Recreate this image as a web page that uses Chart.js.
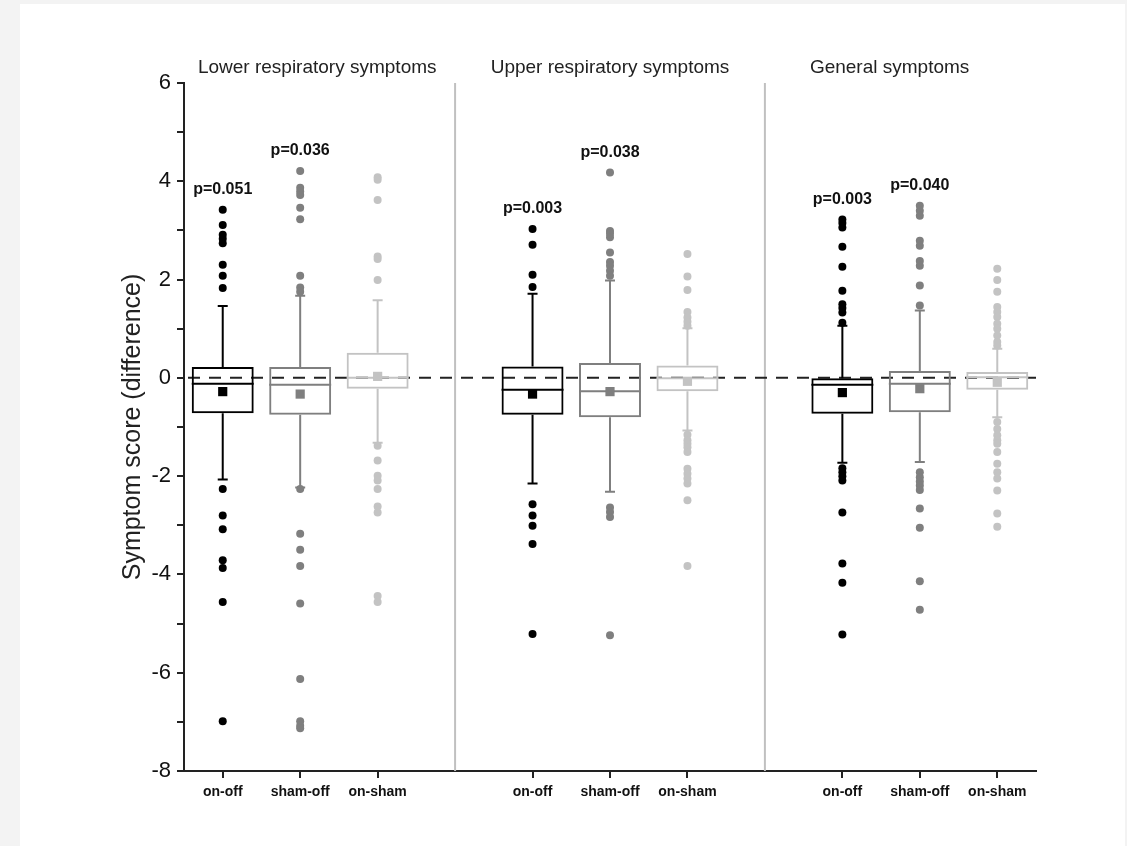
<!DOCTYPE html>
<html>
<head>
<meta charset="utf-8">
<script src="https://cdn.jsdelivr.net/npm/chart.js@4.4.1/dist/chart.umd.min.js"></script>
<style>
  html, body { margin: 0; padding: 0; background: #f3f3f3; }
  #panel { position: absolute; left: 20px; top: 4px; width: 1105px; height: 842px; background: #fff; }
  #wrap { position: absolute; left: 0; top: 0; width: 1127px; height: 846px; }
</style>
</head>
<body>
<div id="panel"></div>
<div id="wrap"><canvas id="box-chart" width="1127" height="846"></canvas></div>
<script>
// categorias e grupos
const groupTitles = ["Lower respiratory symptoms", "Upper respiratory symptoms", "General symptoms"];
const comparisons = ["on-off", "sham-off", "on-sham"];
const xPositions = [1, 2, 3, 5, 6, 7, 9, 10, 11];
const separators = [4, 8];
const yTickLabels = [6, 4, 2, 0, -2, -4, -6, -8];

// estatísticas de cada caixa
const q1 = [-0.72, -0.75, -0.22, -0.75, -0.80, -0.27, -0.73, -0.70, -0.24];
const q3 = [0.22, 0.22, 0.51, 0.23, 0.30, 0.25, -0.01, 0.14, 0.12];
const median = [-0.12, -0.14, 0.00, -0.24, -0.27, -0.01, -0.14, -0.12, 0.01];
const mean = [-0.28, -0.33, 0.03, -0.33, -0.28, -0.07, -0.30, -0.22, -0.09];
const whiskerLow = [-2.07, -2.23, -1.32, -2.15, -2.32, -1.07, -1.73, -1.71, -0.80];
const whiskerHigh = [1.46, 1.67, 1.58, 1.71, 1.98, 1.01, 1.06, 1.37, 0.59];
const outliers = [
  [3.42, 3.11, 2.91, 2.83, 2.74, 2.30, 2.08, 1.83, -2.26, -2.80, -3.08, -3.71, -3.87, -4.56, -6.99],
  [4.21, 3.87, 3.79, 3.72, 3.46, 3.23, 2.08, 1.84, 1.75, -2.26, -3.17, -3.50, -3.83, -4.59, -6.13, -6.99, -7.08, -7.13],
  [4.08, 4.03, 3.62, 2.47, 2.42, 1.99, -1.38, -1.68, -1.99, -2.09, -2.26, -2.62, -2.74, -4.44, -4.56],
  [3.03, 2.71, 2.10, 1.85, -2.57, -2.80, -3.01, -3.38, -5.21],
  [4.18, 2.99, 2.93, 2.86, 2.55, 2.36, 2.28, 2.18, 2.08, -2.64, -2.73, -2.83, -5.24],
  [2.52, 2.06, 1.79, 1.34, 1.23, 1.14, 1.06, -1.16, -1.27, -1.34, -1.41, -1.51, -1.85, -1.95, -2.05, -2.15, -2.49, -3.83],
  [3.22, 3.15, 3.06, 2.67, 2.26, 1.77, 1.50, 1.42, 1.33, 1.12, -1.84, -1.92, -2.00, -2.09, -2.74, -3.78, -4.17, -5.22],
  [3.50, 3.40, 3.30, 2.79, 2.69, 2.38, 2.28, 1.88, 1.47, -1.92, -2.02, -2.11, -2.19, -2.28, -2.66, -3.05, -4.14, -4.72],
  [2.22, 1.99, 1.75, 1.44, 1.34, 1.24, 1.10, 1.00, 0.86, 0.73, 0.66, -0.90, -1.04, -1.17, -1.27, -1.34, -1.51, -1.75, -1.92, -2.05, -2.29, -2.76, -3.03]
];
const pValues = ["p=0.051", "p=0.036", "", "p=0.003", "p=0.038", "", "p=0.003", "p=0.040", ""];

// cores por comparação
const colors = ["#000000", "#7f7f7f", "#c3c3c3"];
const boxColor = i => colors[i % 3];
const titleAnchors = [2.22, 6.0, 9.61];

const boxPlugin = {
  id: "boxExtras",
  beforeDatasetsDraw(chart) {
    const { ctx, chartArea, scales: { x, y } } = chart;
    ctx.save();
    // separadores entre grupos
    ctx.strokeStyle = "#c0c0c0";
    ctx.lineWidth = 2;
    separators.forEach(s => {
      const px = x.getPixelForValue(s);
      ctx.beginPath();
      ctx.moveTo(px, chartArea.top);
      ctx.lineTo(px, chartArea.bottom);
      ctx.stroke();
    });
    // linha tracejada em zero
    ctx.strokeStyle = "#222";
    ctx.setLineDash([12, 9]);
    ctx.beginPath();
    ctx.moveTo(chartArea.left + 4, y.getPixelForValue(0));
    ctx.lineTo(chartArea.right, y.getPixelForValue(0));
    ctx.stroke();
    ctx.setLineDash([]);
    // bigodes e medianas
    const bars = chart.getDatasetMeta(0).data;
    xPositions.forEach((xv, i) => {
      const cx = x.getPixelForValue(xv);
      const half = bars[i].width / 2;
      ctx.strokeStyle = boxColor(i);
      ctx.lineWidth = 2;
      ctx.beginPath();
      ctx.moveTo(cx, y.getPixelForValue(q3[i]));
      ctx.lineTo(cx, y.getPixelForValue(whiskerHigh[i]));
      ctx.moveTo(cx - 5, y.getPixelForValue(whiskerHigh[i]));
      ctx.lineTo(cx + 5, y.getPixelForValue(whiskerHigh[i]));
      ctx.moveTo(cx, y.getPixelForValue(q1[i]));
      ctx.lineTo(cx, y.getPixelForValue(whiskerLow[i]));
      ctx.moveTo(cx - 5, y.getPixelForValue(whiskerLow[i]));
      ctx.lineTo(cx + 5, y.getPixelForValue(whiskerLow[i]));
      ctx.moveTo(cx - half, y.getPixelForValue(median[i]));
      ctx.lineTo(cx + half, y.getPixelForValue(median[i]));
      ctx.stroke();
    });
    ctx.restore();
  },
  afterDraw(chart) {
    const { ctx, chartArea, scales: { x, y } } = chart;
    ctx.save();
    ctx.fillStyle = "#222";
    ctx.textAlign = "center";
    ctx.textBaseline = "middle";
    ctx.font = "19px 'Liberation Sans', Arial, sans-serif";
    groupTitles.forEach((t, g) => {
      ctx.fillText(t, x.getPixelForValue(titleAnchors[g]), chartArea.top - 15);
    });
    ctx.font = "bold 16px 'Liberation Sans', Arial, sans-serif";
    ctx.fillStyle = "#111";
    pValues.forEach((p, i) => {
      if (!p) return;
      const top = Math.max(...outliers[i]);
      ctx.fillText(p, x.getPixelForValue(xPositions[i]), y.getPixelForValue(top) - 20);
    });
    ctx.restore();
  }
};

document.addEventListener("DOMContentLoaded", function() {
  const outlierSets = comparisons.map((c, k) => ({
    type: "scatter",
    label: c + " outliers",
    data: xPositions.flatMap((xv, i) => i % 3 === k ? outliers[i].map(v => ({ x: xv, y: v })) : []),
    pointRadius: 4,
    pointBackgroundColor: colors[k],
    pointBorderWidth: 0,
    order: 1
  }));

  new Chart(document.getElementById("box-chart"), {
    type: "scatter",
    data: {
      datasets: [
        {
          type: "bar",
          label: "IQR",
          data: xPositions.map((xv, i) => ({ x: xv, y: [q1[i], q3[i]] })),
          backgroundColor: "rgba(0,0,0,0)",
          borderColor: xPositions.map((xv, i) => boxColor(i)),
          borderWidth: 2,
          borderSkipped: false,
          barPercentage: 0.8,
          categoryPercentage: 1,
          order: 3
        },
        ...outlierSets,
        {
          type: "scatter",
          label: "mean",
          data: xPositions.map((xv, i) => ({ x: xv, y: mean[i] })),
          pointStyle: "rect",
          pointRadius: 6.5,
          pointBackgroundColor: xPositions.map((xv, i) => boxColor(i)),
          pointBorderWidth: 0,
          order: 0
        }
      ]
    },
    options: {
      responsive: false,
      animation: false,
      layout: { padding: { left: 114, top: 83, right: 91, bottom: 0 } },
      plugins: { legend: { display: false }, tooltip: { enabled: false } },
      scales: {
        x: {
          type: "linear",
          min: 0.5,
          max: 11.5,
          offset: false,
          afterBuildTicks: scale => { scale.ticks = xPositions.map(v => ({ value: v })); },
          afterFit: scale => { scale.height = 75; },
          ticks: {
            autoSkip: false,
            maxRotation: 0,
            padding: 6,
            color: "#111",
            font: { family: "'Liberation Sans', Arial, sans-serif", size: 14, weight: "bold" },
            callback: v => comparisons[xPositions.indexOf(v) % 3]
          },
          grid: { offset: false, drawOnChartArea: false, tickLength: 7, color: "#222", lineWidth: 2 },
          border: { display: true, color: "#222", width: 2 }
        },
        y: {
          min: -8,
          max: 6,
          afterFit: scale => { scale.width = 70; },
          ticks: {
            stepSize: 1,
            padding: 6,
            color: "#111",
            font: { family: "'Liberation Sans', Arial, sans-serif", size: 22 },
            callback: v => yTickLabels.includes(v) ? String(v) : ""
          },
          grid: { drawOnChartArea: false, tickLength: 7, color: "#222", lineWidth: 2 },
          border: { display: true, color: "#222", width: 2 },
          title: {
            display: true,
            text: "Symptom score (difference)",
            color: "#222",
            font: { family: "'Liberation Sans', Arial, sans-serif", size: 25 }
          }
        }
      }
    },
    plugins: [boxPlugin]
  });
});
</script>
</body>
</html>
